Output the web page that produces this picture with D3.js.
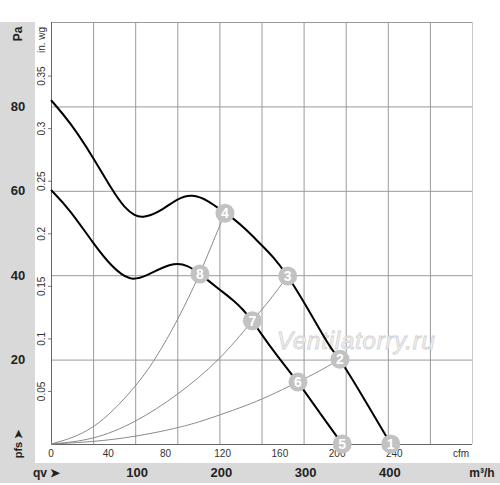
<!DOCTYPE html>
<html><head><meta charset="utf-8">
<script src="https://cdn.jsdelivr.net/npm/d3@7"></script>
<style>body{margin:0;background:#fff}svg{display:block;font-family:"Liberation Sans",Arial,sans-serif}</style>
</head><body><svg id="c" width="500" height="485"></svg>
<script>
// ---- data (flow in m³/h, pressure in Pa) ----
const curveHighQ = [0,22.6,49.9,72.4,87.9,99.8,108.1,127.1,150.8,167.4,186.4,206.6,216.5,232.4,248.2,264.0,281.1,287.8,303.7,319.5,333.4,343.2,366.9,403.5];
const curveHighP = [81.5,76.3,68.0,60.2,55.8,54.1,53.6,54.7,58.3,59.2,57.8,54.7,53.5,50.7,47.5,44.4,39.8,37.7,32.5,27.0,22.3,20.1,12.4,0];
const curveLowQ = [0,22.6,49.9,72.4,93.8,111.6,143.7,162.7,176.9,200.7,216.5,228.4,239.1,260.1,281.8,293.3,319.4,345.9];
const curveLowP = [60.2,55.5,47.6,41.9,38.6,39.6,43.1,42.4,40.3,36.5,34.1,31.8,29.2,23.1,17.5,14.7,7.3,0];
const sysAQ = [0,49.9,99.8,123.5,150.8,176.9,191,206.6];
const sysAP = [0,2.8,13.3,19.9,29.4,40.3,47.2,54.7];
const sysBQ = [0,49.9,99.8,150.8,200.7,239.1,260.1,281.1];
const sysBP = [0,0.9,5.0,11.6,19.9,29.2,34.1,39.8];
const sysCQ = [0,49.9,99.8,150.8,177.3,200.7,230.4,256.5,293.3,319.4,343.2];
const sysCP = [0,0.5,1.7,3.8,5.3,6.9,9.0,11.1,14.7,17.3,20.1];
const markerIds = ["1","2","3","4","5","6","7","8"];
const markerQ = [403.5,343.2,281.1,206.6,345.9,293.3,239.1,176.9];
const markerP = [0,20.1,39.8,54.7,0,14.7,29.2,40.3];
const paTicks = [20,40,60,80];
const inwgTicks = [0.05,0.1,0.15,0.2,0.25,0.3,0.35];
const cfmTicks = [0,40,80,120,160,200,240];
const m3hTicks = [100,200,300,400];
const gridQ = [50,100,150,200,250,300,350,400,450,500];

const svg = d3.select("#c");
const L=51,R=472,T=22,B=444;
const x = d3.scaleLinear().domain([0,500]).range([L,R]);
const y = d3.scaleLinear().domain([0,100]).range([B,T]);
const PA_PER_INWG = 249.089, M3H_PER_CFM = 1.699;

// gray panels
svg.append("rect").attr("x",0).attr("y",T).attr("width",35).attr("height",483-T).attr("fill","#d9d9d9");
svg.append("rect").attr("x",0).attr("y",463).attr("width",500).attr("height",20).attr("fill","#d9d9d9");

// grid
const g = svg.append("g");
g.selectAll(".vg").data(gridQ).join("line")
  .attr("x1",d=>x(d)+0.5).attr("x2",d=>x(d)+0.5).attr("y1",T).attr("y2",B)
  .attr("stroke",d=>d===500?"#c8c8c8":"#9a9a9a").attr("stroke-width",1);
g.selectAll(".hg").data(paTicks.concat([100])).join("line")
  .attr("x1",L).attr("x2",R).attr("y1",d=>y(d)+0.5).attr("y2",d=>y(d)+0.5)
  .attr("stroke","#9a9a9a").attr("stroke-width",1);
g.append("line").attr("x1",L+0.5).attr("x2",L+0.5).attr("y1",T).attr("y2",B).attr("stroke","#666");
g.append("line").attr("x1",L).attr("x2",R).attr("y1",B+0.5).attr("y2",B+0.5).attr("stroke","#666");

// in. wg ticks
inwgTicks.forEach(v=>{
  const yy = y(v*PA_PER_INWG);
  g.append("line").attr("x1",L-3).attr("x2",L).attr("y1",yy).attr("y2",yy).attr("stroke","#777");
  svg.append("text").attr("transform",`translate(45,${yy}) rotate(-90)`).attr("text-anchor","middle")
    .attr("font-size",10).attr("fill","#333").text(v);
});
svg.append("text").attr("transform",`translate(45,40) rotate(-90)`).attr("text-anchor","middle")
  .attr("font-size",10).attr("fill","#333").text("in. wg");

// Pa labels
paTicks.forEach(v=>{
  svg.append("text").attr("x",18).attr("y",y(v)+4.5).attr("text-anchor","middle")
    .attr("font-size",13).attr("font-weight","bold").attr("fill","#222").text(v);
});
svg.append("text").attr("transform",`translate(21.5,34) rotate(-90)`).attr("text-anchor","middle")
  .attr("font-size",12).attr("font-weight","bold").attr("fill","#222").text("Pa");
svg.append("text").attr("transform",`translate(21.5,444) rotate(-90)`).attr("text-anchor","middle")
  .attr("font-size",11).attr("font-weight","bold").attr("fill","#222").text("pfs ➤");

// cfm labels
cfmTicks.forEach(v=>{
  svg.append("text").attr("x",x(v*M3H_PER_CFM)).attr("y",457).attr("text-anchor","middle")
    .attr("font-size",10).attr("fill","#333").text(v);
});
svg.append("text").attr("x",461).attr("y",457).attr("text-anchor","middle")
  .attr("font-size",10).attr("fill","#333").text("cfm");

// m3/h labels
m3hTicks.forEach(v=>{
  svg.append("text").attr("x",x(v)+2).attr("y",477).attr("text-anchor","middle")
    .attr("font-size",13).attr("font-weight","bold").attr("fill","#222").text(v);
});
svg.append("text").attr("x",482).attr("y",477).attr("text-anchor","middle")
  .attr("font-size",12).attr("font-weight","bold").attr("fill","#222").text("m³/h");
svg.append("text").attr("x",33).attr("y",477).attr("font-size",12).attr("font-weight","bold").attr("fill","#222").text("qv ➤");

// watermark
svg.append("text").attr("x",277).attr("y",349).attr("font-size",24).attr("font-style","italic")
  .attr("fill","#f2f2f2").attr("stroke","#d2d2d2").attr("stroke-width",0.8).attr("letter-spacing",0.8)
  .text("Ventilatorry.ru");

const line = d3.line().x(d=>x(d[0])).y(d=>y(d[1])).curve(d3.curveBasis);
const zip = (a,b)=>a.map((v,i)=>[v,b[i]]);

// system curves
[[sysAQ,sysAP],[sysBQ,sysBP],[sysCQ,sysCP]].forEach(([q,p])=>{
  svg.append("path").attr("d",line(zip(q,p))).attr("fill","none").attr("stroke","#8a8a8a").attr("stroke-width",1);
});
// fan curves
[[curveHighQ,curveHighP],[curveLowQ,curveLowP]].forEach(([q,p])=>{
  svg.append("path").attr("d",line(zip(q,p))).attr("fill","none").attr("stroke","#000").attr("stroke-width",2);
});

// markers
const mk = svg.append("g").selectAll("g").data(markerIds.map((id,i)=>({id,q:markerQ[i],p:markerP[i]}))).join("g")
  .attr("transform",d=>`translate(${x(d.q)},${y(d.p)})`);
mk.append("circle").attr("r",9.5).attr("fill","#c2c2c2");
mk.append("text").attr("text-anchor","middle").attr("y",5).attr("font-size",14).attr("font-weight","bold")
  .attr("fill","#fff").text(d=>d.id);
</script></body></html>
